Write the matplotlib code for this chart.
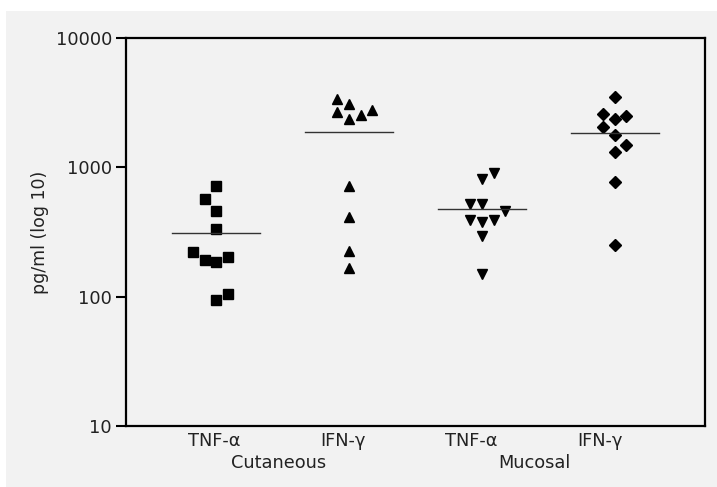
import matplotlib
matplotlib.use("Agg")
import matplotlib.pyplot as plt
from matplotlib.patches import Rectangle
import numpy as np

plt.rcParams["font.family"] = "DejaVu Sans"

# values (pg/ml)
cut_tnf = [721, 568, 462, 332, 223, 192, 184, 201, 105, 94]
cut_tnf_jit = [0, -1, 0, 0, -2, -1, 0, 1, 1, 0]
cut_ifn = [3365, 3097, 2656, 2766, 2541, 2367, 712, 415, 226, 167]
cut_ifn_jit = [-1, 0, -1, 2, 1, 0, 0, 0, 0, 0]
muc_tnf = [903, 811, 523, 520, 458, 393, 375, 391, 295, 149]
muc_tnf_jit = [1, 0, -1, 0, 2, -1, 0, 1, 0, 0]
muc_ifn = [3490, 2576, 2485, 2357, 2042, 1771, 1489, 1307, 769, 249]
muc_ifn_jit = [0, -1, 1, 0, -1, 0, 1, 0, 0, 0]
medians = [308, 1868, 475, 1858]

tick_labels = ["TNF-\u03b1", "IFN-\u03b3", "TNF-\u03b1", "IFN-\u03b3"]
group_labels = ["Cutaneous", "Mucosal"]

fig = plt.figure(figsize=(7.17, 4.87), dpi=100, facecolor="white")
fig.patches.append(Rectangle((6 / 717, 0), 1, 1 - 11 / 487, transform=fig.transFigure,
                             facecolor="#f2f2f2", edgecolor="none", zorder=-10))
ax = fig.add_axes([126 / 717, 1 - 426 / 487, (705 - 126) / 717, (426 - 38) / 487])
ax.set_facecolor("#f2f2f2")

step = 0.088
groups = [
    (cut_tnf, cut_tnf_jit, "s", 6.5),
    (cut_ifn, cut_ifn_jit, "^", 7),
    (muc_tnf, muc_tnf_jit, "v", 7),
    (muc_ifn, muc_ifn_jit, "D", 6),
]
for i, (vals, jit, m, ms) in enumerate(groups):
    pos = i + 1 + np.array(jit) * step
    ax.plot(pos, vals, linestyle="none", marker=m, markersize=ms, color="black")
    ax.plot([i + 1 - 0.33, i + 1 + 0.33], [medians[i], medians[i]], color="#333333", lw=1)

ax.set_yscale("log")
ax.set_ylim(10, 10000)
ax.set_xlim(0.32, 4.68)
ax.set_yticks([10, 100, 1000, 10000])
ax.set_yticklabels(["10", "100", "1000", "10000"])
ax.yaxis.set_minor_locator(matplotlib.ticker.NullLocator())
ax.tick_params(axis="y", direction="out", length=7, width=1.5, labelsize=12.8,
               labelcolor="#222222", pad=3)

ax.set_xticks([0.985, 1.955, 2.917, 3.887])
ax.set_xticklabels(tick_labels)
ax.tick_params(axis="x", length=0, labelsize=12.8, labelcolor="#222222", pad=4)

for sp in ax.spines.values():
    sp.set_linewidth(1.6)

ax.text(1.466, -0.072, group_labels[0], transform=ax.get_xaxis_transform(),
        ha="center", va="top", fontsize=12.8, color="#222222")
ax.text(3.398, -0.072, group_labels[1], transform=ax.get_xaxis_transform(),
        ha="center", va="top", fontsize=12.8, color="#222222")

ax.set_ylabel("pg/ml (log 10)", fontsize=12.5, color="#222222", labelpad=5)

fig.savefig("out.png", dpi=100, facecolor=fig.get_facecolor())
